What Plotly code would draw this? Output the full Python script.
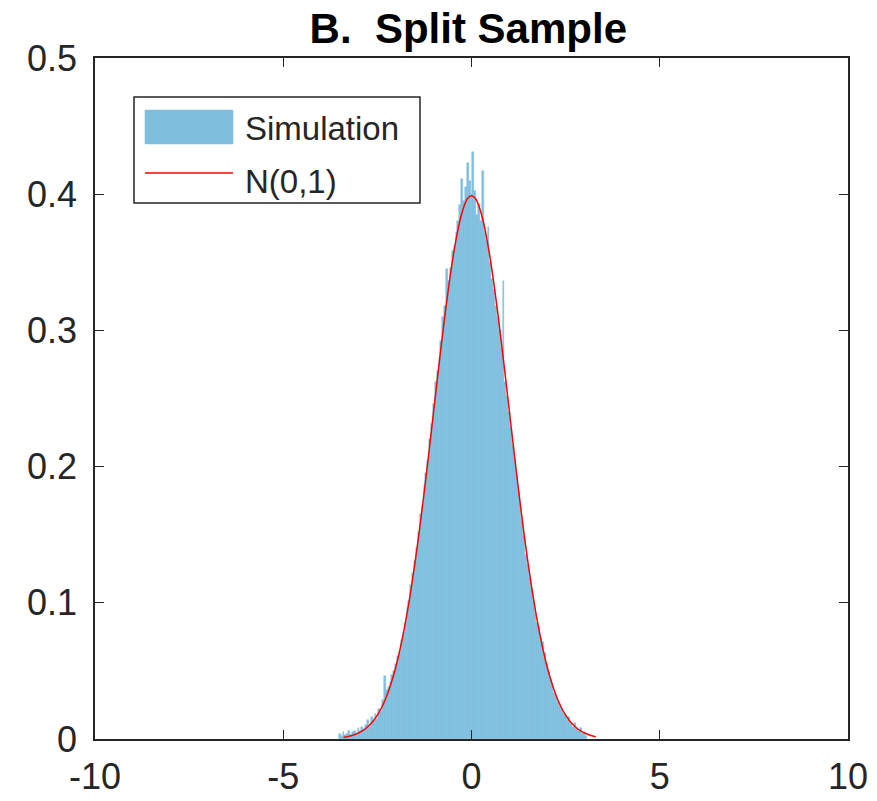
import numpy as np
import plotly.graph_objects as go

# Histogram of the simulated statistic (pdf-normalised), bins of width 0.05
BIN_START = -3.5
BIN_WIDTH = 0.05
SIM_DENSITY = [
    0.004, 0.002, 0.005, 0.003, 0.004, 0.006, 0.003, 0.005, 0.006, 0.004,
    0.008, 0.006, 0.009, 0.007, 0.010, 0.014, 0.009, 0.016, 0.013, 0.018,
    0.015, 0.022, 0.020, 0.029, 0.046, 0.036, 0.038, 0.042, 0.047, 0.050,
    0.055, 0.061, 0.064, 0.073, 0.078, 0.086, 0.096, 0.101, 0.113, 0.122,
    0.131, 0.140, 0.152, 0.165, 0.172, 0.186, 0.195, 0.204, 0.220, 0.231,
    0.246, 0.262, 0.270, 0.280, 0.292, 0.310, 0.318, 0.345, 0.336, 0.346,
    0.358, 0.362, 0.372, 0.380, 0.392, 0.411, 0.395, 0.405, 0.423, 0.410,
    0.400, 0.431, 0.402, 0.385, 0.393, 0.380, 0.417, 0.372, 0.366, 0.376,
    0.350, 0.338, 0.330, 0.318, 0.309, 0.300, 0.286, 0.336, 0.262, 0.252,
    0.240, 0.228, 0.216, 0.205, 0.193, 0.181, 0.170, 0.160, 0.149, 0.135,
    0.128, 0.118, 0.110, 0.101, 0.092, 0.085, 0.082, 0.074, 0.071, 0.063,
    0.055, 0.049, 0.043, 0.039, 0.034, 0.031, 0.027, 0.024, 0.022, 0.018,
    0.017, 0.013, 0.016, 0.011, 0.009, 0.012, 0.007, 0.006, 0.008, 0.004,
    0.005, 0.002,
]

# N(0,1) reference curve, read at 0.1 steps
CURVE_X = [round(-3.4 + 0.1 * i, 1) for i in range(68)]
CURVE_Y = [
    0.0012, 0.0017, 0.0024, 0.0033, 0.0044, 0.0060, 0.0079, 0.0104, 0.0136, 0.0175,
    0.0224, 0.0283, 0.0355, 0.0440, 0.0540, 0.0656, 0.0790, 0.0940, 0.1109, 0.1295,
    0.1497, 0.1714, 0.1942, 0.2179, 0.2420, 0.2661, 0.2897, 0.3123, 0.3332, 0.3521,
    0.3683, 0.3814, 0.3910, 0.3970, 0.3989, 0.3970, 0.3910, 0.3814, 0.3683, 0.3521,
    0.3332, 0.3123, 0.2897, 0.2661, 0.2420, 0.2179, 0.1942, 0.1714, 0.1497, 0.1295,
    0.1109, 0.0940, 0.0790, 0.0656, 0.0540, 0.0440, 0.0355, 0.0283, 0.0224, 0.0175,
    0.0136, 0.0104, 0.0079, 0.0060, 0.0044, 0.0033, 0.0024, 0.0017,
]

X_TICKS = [-10, -5, 0, 5, 10]
X_TICK_TEXT = ["-10", "-5", "0", "5", "10"]
Y_TICKS = [0, 0.1, 0.2, 0.3, 0.4, 0.5]
Y_TICK_TEXT = ["0", "0.1", "0.2", "0.3", "0.4", "0.5"]

AXIS_COLOR = "#262626"
BAR_COLOR = "#7ebfde"
LINE_COLOR = "#ff0000"
FONT = "Liberation Sans, Arial, sans-serif"

bin_centers = BIN_START + BIN_WIDTH * np.arange(len(SIM_DENSITY))

fig = go.Figure()
fig.add_trace(
    go.Bar(
        x=bin_centers,
        y=SIM_DENSITY,
        width=BIN_WIDTH,
        name="Simulation",
        marker=dict(color=BAR_COLOR, line=dict(color=BAR_COLOR, width=0.5)),
    )
)
fig.add_trace(
    go.Scatter(
        x=CURVE_X,
        y=CURVE_Y,
        mode="lines",
        name="N(0,1)",
        line=dict(color=LINE_COLOR, width=1.5, shape="spline"),
    )
)

# MATLAB-style legend box drawn in paper coordinates
legend_shapes = [
    dict(type="rect", xref="paper", yref="paper", x0=0.0518, x1=0.4316, y0=0.787, y1=0.9427,
         line=dict(color=AXIS_COLOR, width=1.5), fillcolor="white", layer="above"),
    dict(type="rect", xref="paper", yref="paper", x0=0.0664, x1=0.1833, y0=0.8737, y1=0.9236,
         line=dict(color=BAR_COLOR, width=0.5), fillcolor=BAR_COLOR, layer="above"),
    dict(type="line", xref="paper", yref="paper", x0=0.0664, x1=0.1833, y0=0.831, y1=0.831,
         line=dict(color=LINE_COLOR, width=1.5), layer="above"),
]
legend_text = [
    dict(text="Simulation", x=0.1965, y=0.897),
    dict(text="N(0,1)", x=0.1965, y=0.819),
]

fig.update_layout(
    width=877,
    height=801,
    plot_bgcolor="white",
    paper_bgcolor="white",
    bargap=0,
    showlegend=False,
    font=dict(family=FONT, size=36, color=AXIS_COLOR),
    title=dict(
        text="<b>B.  Split Sample</b>",
        x=0.534,
        xanchor="center",
        y=0.965,
        yanchor="middle",
        font=dict(family=FONT, size=42, color="#000000"),
    ),
    margin=dict(l=95, r=29, t=58, b=62),
    shapes=legend_shapes,
    annotations=[
        dict(text=t["text"], x=t["x"], y=t["y"], xref="paper", yref="paper",
             xanchor="left", yanchor="middle", showarrow=False,
             font=dict(family=FONT, size=33, color=AXIS_COLOR))
        for t in legend_text
    ],
)
fig.update_xaxes(
    range=[-10, 10],
    tickvals=X_TICKS,
    ticktext=X_TICK_TEXT,
    ticks="inside",
    ticklen=9,
    tickcolor=AXIS_COLOR,
    ticklabelstandoff=5,
    showline=True,
    linecolor=AXIS_COLOR,
    linewidth=1.5,
    mirror="ticks",
    showgrid=False,
    zeroline=False,
    automargin=False,
)
fig.update_yaxes(
    range=[0, 0.5],
    tickvals=Y_TICKS,
    ticktext=Y_TICK_TEXT,
    ticks="inside",
    ticklen=9,
    tickcolor=AXIS_COLOR,
    ticklabelstandoff=9,
    showline=True,
    linecolor=AXIS_COLOR,
    linewidth=1.5,
    mirror="ticks",
    showgrid=False,
    zeroline=False,
    automargin=False,
)

# drop the default page margin so the figure sits at the window's corner
fig.write_html(
    "out.html",
    config={"displayModeBar": False},
    post_script="document.body.style.margin = '0';",
)
